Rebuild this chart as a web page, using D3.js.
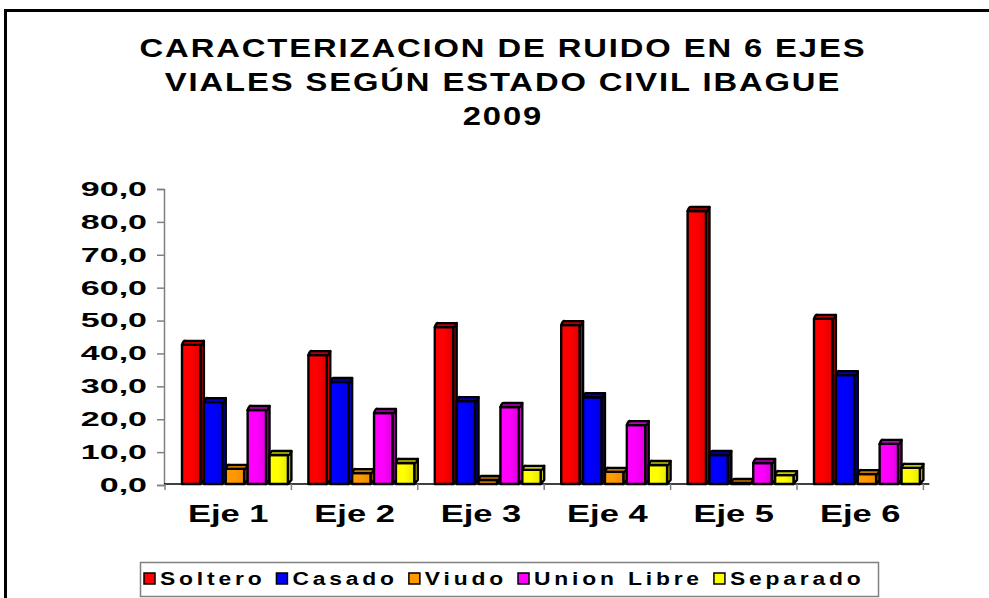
<!DOCTYPE html>
<html>
<head>
<meta charset="utf-8">
<script src="https://cdn.jsdelivr.net/npm/d3@7"></script>
<style>
  body { margin: 0; background: #fff; }
  svg { display: block; font-family: "Liberation Sans", Arial, sans-serif; }
</style>
</head>
<body>
<svg id="chart" width="989" height="598"></svg>
<script>
// data
const categories = ["Eje 1", "Eje 2", "Eje 3", "Eje 4", "Eje 5", "Eje 6"];
const seriesNames = ["Soltero", "Casado", "Viudo", "Union Libre", "Separado"];
const soltero = [42.6, 39.5, 48.0, 48.6, 83.3, 50.5];
const casado = [25.2, 31.3, 25.5, 26.7, 9.1, 33.4];
const viudo = [4.9, 3.6, 1.5, 4.0, 0.6, 3.3];
const unionLibre = [22.8, 21.9, 23.7, 18.2, 6.7, 12.5];
const separado = [9.1, 6.7, 4.6, 6.1, 3.0, 5.2];
const yTicks = [0, 10, 20, 30, 40, 50, 60, 70, 80, 90];
const titleLines = ["CARACTERIZACION DE RUIDO EN 6 EJES", "VIALES SEGÚN ESTADO CIVIL IBAGUE", "2009"];

const seriesValues = [soltero, casado, viudo, unionLibre, separado];

// colours: front (light, dark), top, side
const colors = {
    "Soltero":     {a: "#ff0000", b: "#e00000", top: "#b80000", side: "#c80000"},
    "Casado":      {a: "#0000ff", b: "#0000e0", top: "#0000b8", side: "#0000c0"},
    "Viudo":       {a: "#ff9900", b: "#ee8c00", top: "#c47400", side: "#d07c00"},
    "Union Libre": {a: "#ff00ff", b: "#e000e0", top: "#c000c0", side: "#c800c8"},
    "Separado":    {a: "#ffff00", b: "#e8e800", top: "#c8c800", side: "#d0d000"}
};

const svg = d3.select("#chart");

// outer frame (right and bottom edges are off the picture)
svg.append("rect")
    .attr("x", 5.5).attr("y", 10.5)
    .attr("width", 1000).attr("height", 620)
    .attr("fill", "none").attr("stroke", "#000").attr("stroke-width", 3);

// helper: stretch a text to a factor of its own width, returns new width
function stretch(sel, factor, adjust) {
    let last = 0;
    sel.each(function() {
        last = this.getComputedTextLength() * factor;
        d3.select(this).attr("textLength", last).attr("lengthAdjust", adjust);
    });
    return last;
}

// title
const title = svg.append("g").selectAll("text")
    .data(titleLines)
    .enter().append("text")
    .attr("x", 503)
    .attr("y", (d, i) => 57 + i * 34)
    .attr("text-anchor", "middle")
    .attr("font-size", "26px")
    .attr("font-weight", "bold")
    .attr("letter-spacing", "1.5px")
    .text(d => d);
stretch(title, 1.26, "spacingAndGlyphs");

// scales
const plotLeft = 164, plotRight = 923.4;
const y = d3.scaleLinear().domain([0, 90]).range([485, 189]);
const x0 = d3.scaleBand().domain(categories).range([plotLeft + 1, plotRight]);
const x1 = d3.scaleBand().domain(seriesNames).range([17, x0.bandwidth()]);

const depthX = 3.5, depthY = 4;

// gradients
const defs = svg.append("defs");
seriesNames.forEach((s, i) => {
    const g = defs.append("linearGradient")
        .attr("id", "grad" + i)
        .attr("x1", "0%").attr("x2", "100%").attr("y1", "0%").attr("y2", "0%");
    g.append("stop").attr("offset", "0%").attr("stop-color", colors[s].a);
    g.append("stop").attr("offset", "45%").attr("stop-color", colors[s].a);
    g.append("stop").attr("offset", "100%").attr("stop-color", colors[s].b);
});

// y axis
const yAxis = svg.append("g")
    .attr("transform", `translate(${plotLeft},0)`)
    .call(d3.axisLeft(y).tickValues(yTicks).tickSize(7).tickFormat(d => d3.format(".1f")(d).replace(".", ",")));
yAxis.select(".domain").attr("stroke", "#808080").attr("stroke-width", 1.5);
yAxis.selectAll(".tick line").attr("stroke", "#808080").attr("stroke-width", 1.5);
yAxis.selectAll(".tick text")
    .attr("x", -17)
    .attr("font-family", "Liberation Sans, Arial, sans-serif")
    .attr("font-size", "20px")
    .attr("font-weight", "bold")
    .attr("fill", "#000");
stretch(yAxis.selectAll(".tick text"), 1.7, "spacingAndGlyphs");

// x axis
const xAxis = svg.append("g")
    .attr("transform", `translate(0,${y(0) - 1})`);
xAxis.append("line")
    .attr("x1", plotLeft).attr("x2", plotRight + 6)
    .attr("stroke", "#000").attr("stroke-width", 1.5);
xAxis.selectAll(".cat-tick")
    .data(categories.concat(["end"]))
    .enter().append("line")
    .attr("class", "cat-tick")
    .attr("x1", (d, i) => plotLeft + 1 + i * x0.step())
    .attr("x2", (d, i) => plotLeft + 1 + i * x0.step())
    .attr("y1", 0).attr("y2", 6)
    .attr("stroke", "#808080").attr("stroke-width", 1.5);
const xLabels = xAxis.selectAll(".cat-label")
    .data(categories)
    .enter().append("text")
    .attr("class", "cat-label")
    .attr("x", d => x0(d) + x0.bandwidth() / 2)
    .attr("y", 38)
    .attr("text-anchor", "middle")
    .attr("font-size", "23px")
    .attr("font-weight", "bold")
    .text(d => d);
stretch(xLabels, 1.5, "spacingAndGlyphs");

// 3D bars
const bars = [];
categories.forEach((c, ci) => {
    seriesNames.forEach((s, si) => {
        bars.push({cat: c, series: s, si: si, value: seriesValues[si][ci]});
    });
});

const barG = svg.append("g").attr("stroke", "#000").attr("stroke-width", 2.4).attr("stroke-linejoin", "round");
const bar = barG.selectAll("g.bar")
    .data(bars)
    .enter().append("g")
    .attr("class", "bar");

const w = x1.bandwidth() - depthX;
const bx = d => x0(d.cat) + x1(d.series);

// side face
bar.append("path")
    .attr("fill", d => colors[d.series].side)
    .attr("d", d => {
        const x = bx(d) + w, top = y(d.value), base = y(0) - 1;
        return `M${x},${top}L${x + depthX},${top - depthY}L${x + depthX},${base - depthY}L${x},${base}Z`;
    });
// front face
bar.append("rect")
    .attr("x", bx)
    .attr("y", d => y(d.value))
    .attr("width", w)
    .attr("height", d => y(0) - 1 - y(d.value))
    .attr("fill", d => `url(#grad${d.si})`);
// top face
bar.append("path")
    .attr("fill", d => colors[d.series].top)
    .attr("d", d => {
        const x = bx(d), top = y(d.value);
        return `M${x},${top}Q${x + depthX / 2},${top - depthY - 1} ${x + depthX},${top - depthY}` +
               `L${x + w + depthX},${top - depthY}Q${x + w + depthX / 2},${top + 1} ${x + w},${top}Z`;
    });

// legend
const legend = svg.append("g");
legend.append("rect")
    .attr("x", 140.5).attr("y", 562.5)
    .attr("width", 738).attr("height", 34)
    .attr("fill", "#fff").attr("stroke", "#808080").attr("stroke-width", 1.5);

let lx = 144;
seriesNames.forEach((s, i) => {
    legend.append("rect")
        .attr("x", lx).attr("y", 573)
        .attr("width", 11).attr("height", 11)
        .attr("fill", colors[s].a)
        .attr("stroke", "#000").attr("stroke-width", 1.5);
    const t = legend.append("text")
        .attr("x", lx + 16).attr("y", 585)
        .attr("font-size", "18px")
        .attr("font-weight", "bold")
        .attr("letter-spacing", "3px")
        .text(s);
    const tw = stretch(t, 1.27, "spacingAndGlyphs");
    lx += 16 + tw + 11;
});
</script>
</body>
</html>
